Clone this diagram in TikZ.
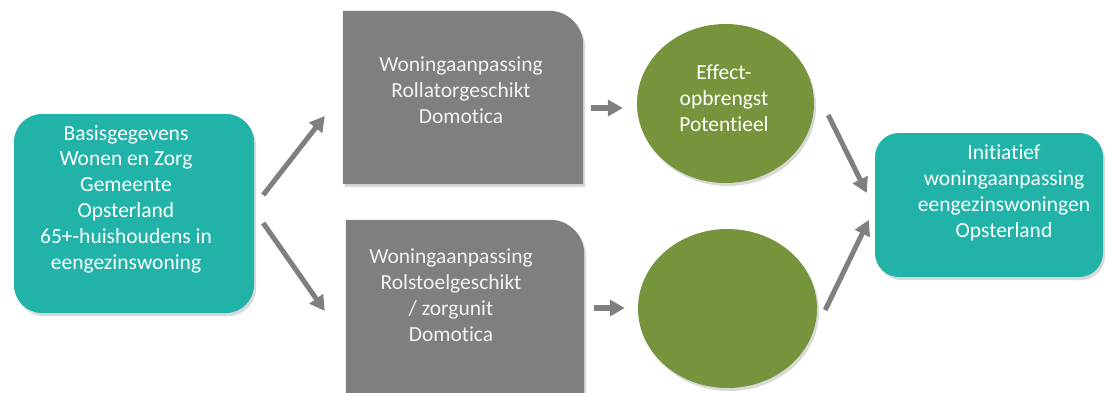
\documentclass[tikz,border=0pt]{standalone}
\usepackage{fontspec}
\setmainfont[Ligatures=NoCommon]{Carlito}
\usetikzlibrary{arrows.meta,shadows,calc,shapes.geometric}
\definecolor{tealc}{HTML}{21B2A8}
\definecolor{boxgray}{HTML}{7F7F7F}
\definecolor{olivec}{HTML}{77933C}
\definecolor{arrgray}{HTML}{7F7F7F}
\definecolor{lighttxt}{HTML}{F2F2F2}
\begin{document}
\begin{tikzpicture}[x=1pt,y=-1pt,
  font=\fontsize{21.5}{25.8}\selectfont,
  shad/.style={drop shadow={shadow xshift=2pt,shadow yshift=-3pt,opacity=0.15,fill=black}},
  tealbox/.style={rectangle,fill=tealc,rounded corners=28pt,inner sep=0pt,shad},
  grayframe/.style={rectangle,inner sep=0pt},
  greenell/.style={ellipse,fill=olivec,inner sep=0pt,shad},
  wtxt/.style={align=center,text=white,inner sep=0pt},
  gtxt/.style={align=center,text=lighttxt,inner sep=0pt},
  arr/.style={draw=arrgray,line width=5pt,-{Triangle[length=15pt,width=16pt]}}]
\useasboundingbox (0,0) rectangle (1106,392);

% left box
\node[tealbox,minimum width=240pt,minimum height=199pt] (base) at (134,213.5) {};
\node[wtxt] (basetxt) at (126,199) {Basisgegevens\\Wonen en Zorg\\Gemeente\\Opsterland\\65+-huishoudens in\\eengezinswoning};

% top gray box
\node[grayframe,minimum width=240pt,minimum height=173pt] (g1) at (463,97.5) {};
\fill[boxgray,shad] (g1.south west) -- (g1.north west) [rounded corners=34pt]-- (g1.north east) [sharp corners]-- (g1.south east) -- cycle;
\node[gtxt] (g1txt) at (461,90) {Woningaanpassing\\Rollatorgeschikt\\Domotica};

% bottom gray box
\node[grayframe,minimum width=238pt,minimum height=173pt] (g2) at (465,306.5) {};
\fill[boxgray,shad] (g2.south west) -- (g2.north west) [rounded corners=34pt]-- (g2.north east) [sharp corners]-- (g2.south east) -- cycle;
\node[gtxt] (g2txt) at (451,295) {Woningaanpassing\\Rolstoelgeschikt\\/ zorgunit\\Domotica};

% ellipses
\node[greenell,minimum width=177pt,minimum height=159pt] (e1) at (725.5,103.5) {};
\node[wtxt] (e1txt) at (724,98) {Effect-\\opbrengst\\Potentieel};
\node[greenell,minimum width=179pt,minimum height=159pt] (e2) at (727.5,308.5) {};

% right box
\node[tealbox,rounded corners=24pt,minimum width=228pt,minimum height=144pt] (res) at (989,205) {};
\node[wtxt] (restxt) at (1004,193) {Initiatief\\woningaanpassing\\eengezinswoningen\\Opsterland};

% arrows
\draw[arr] ($(base.east)+(9,-18.5)$) -- ($(g1.west)+(-18,18.5)$);
\draw[arr] ($(base.east)+(9,9.5)$) -- ($(g2.west)+(-21,4.5)$);
\draw[arr,line width=6pt] ($(g1.east)+(8,10.5)$) -- ($(e1.west)+(-14,4.5)$);
\draw[arr,line width=6pt] ($(g2.east)+(10,1.5)$) -- ($(e2.west)+(-13,-0.5)$);
\draw[arr] ($(e1.east)+(14,11.5)$) -- ($(res.west)+(-8,-12)$);
\draw[arr] ($(e2.east)+(8,1.5)$) -- ($(res.west)+(-6,15)$);
\end{tikzpicture}
\end{document}
